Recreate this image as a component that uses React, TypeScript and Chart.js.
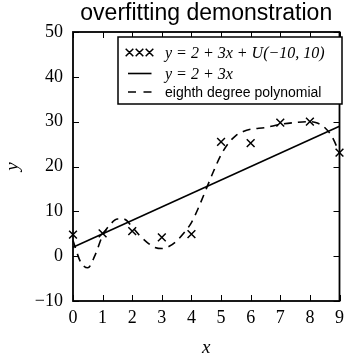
import React, { useEffect, useRef } from "react";
import { Chart, registerables } from "chart.js";

Chart.register(...registerables);

const sampleX = [0, 1, 2, 3, 4, 5, 6, 7, 8, 9];
const sampleY = [4.8, 5.1, 5.6, 4.2, 4.9, 25.5, 25.2, 29.8, 30.0, 23.1];

const lineX = [0, 9];
const lineY = [2, 29];

const polyX = [0, 0.25, 0.5, 0.75, 1, 1.25, 1.5, 1.75, 2, 2.25, 2.5, 2.75, 3, 3.25, 3.5, 3.75, 4, 4.25, 4.5, 4.75, 5, 5.25, 5.5, 5.75, 6, 6.5, 7, 7.5, 8, 8.25, 8.5, 8.75, 9];
const polyY = [3.5, -1.2, -2.6, 0.3, 4.6, 7.0, 8.3, 8.2, 6.5, 4.6, 3.1, 2.0, 1.7, 2.2, 3.4, 5.2, 7.5, 11.0, 15.0, 19.0, 22.6, 25.2, 26.9, 27.8, 28.3, 28.7, 29.4, 29.8, 30.0, 29.7, 28.7, 26.6, 23.0];

const xTicks = [0, 1, 2, 3, 4, 5, 6, 7, 8, 9];
const yTicks = [-10, 0, 10, 20, 30, 40, 50];

const titleText = "overfitting demonstration";
const legendLabels = ["y = 2 + 3x + U(\u221210, 10)", "y = 2 + 3x", "eighth degree polynomial"];

const fmt = (v: number) => (v < 0 ? "\u2212" + Math.abs(v) : String(v));

const decor = {
  id: "decor",
  afterDraw(chart: any) {
    const { ctx, chartArea: a, scales } = chart;
    const xs = scales.x;
    const ys = scales.y;
    ctx.save();
    ctx.strokeStyle = "#000";
    ctx.lineWidth = 1;
    ctx.beginPath();
    xTicks.forEach((t) => {
      const px = Math.round(xs.getPixelForValue(t)) + 0.5;
      ctx.moveTo(px, a.bottom);
      ctx.lineTo(px, a.bottom - 6);
      ctx.moveTo(px, a.top);
      ctx.lineTo(px, a.top + 6);
    });
    yTicks.forEach((t) => {
      const py = Math.round(ys.getPixelForValue(t)) + 0.5;
      ctx.moveTo(a.left, py);
      ctx.lineTo(a.left + 6, py);
      ctx.moveTo(a.right, py);
      ctx.lineTo(a.right - 6, py);
    });
    ctx.stroke();
    ctx.lineWidth = 1.8;
    ctx.strokeRect(a.left, a.top, a.right - a.left, a.bottom - a.top);

    ctx.fillStyle = "#000";
    ctx.font = '23px "Liberation Sans"';
    ctx.textAlign = "center";
    ctx.textBaseline = "alphabetic";
    ctx.fillText(titleText, (a.left + a.right) / 2, 20);

    const bx = 118, by = 37, bw = 224, bh = 67;
    ctx.fillStyle = "#fff";
    ctx.fillRect(bx, by, bw, bh);
    ctx.lineWidth = 1.5;
    ctx.strokeStyle = "#000";
    ctx.strokeRect(bx, by, bw, bh);
    const rows = [52.5, 73.5, 92];
    ctx.lineWidth = 1.5;
    ctx.beginPath();
    [129.5, 139.5, 149.5].forEach((cx) => {
      const r = 3.8;
      ctx.moveTo(cx - r, rows[0] - r);
      ctx.lineTo(cx + r, rows[0] + r);
      ctx.moveTo(cx - r, rows[0] + r);
      ctx.lineTo(cx + r, rows[0] - r);
    });
    ctx.stroke();
    ctx.lineWidth = 1.6;
    ctx.beginPath();
    ctx.moveTo(128, rows[1]);
    ctx.lineTo(151.5, rows[1]);
    ctx.stroke();
    ctx.beginPath();
    ctx.moveTo(128, rows[2]);
    ctx.lineTo(136, rows[2]);
    ctx.moveTo(143.5, rows[2]);
    ctx.lineTo(151.5, rows[2]);
    ctx.stroke();
    ctx.fillStyle = "#000";
    ctx.textAlign = "left";
    ctx.textBaseline = "middle";
    ctx.font = 'italic 16px "Liberation Serif"';
    ctx.fillText(legendLabels[0], 165, rows[0] + 1);
    ctx.fillText(legendLabels[1], 165, rows[1] + 1);
    ctx.font = '14px "Liberation Sans"';
    ctx.fillText(legendLabels[2], 165, rows[2] + 1);
    ctx.restore();
  },
};

export default function App() {
  const ref = useRef<HTMLCanvasElement | null>(null);
  useEffect(() => {
    if (!ref.current) return;
    const tickFont = { family: "Liberation Serif", size: 18 };
    const chart = new Chart(ref.current, {
      type: "scatter",
      data: {
        datasets: [
          {
            label: "poly",
            data: polyX.map((x, i) => ({ x, y: polyY[i] })),
            showLine: true,
            borderColor: "#000",
            borderWidth: 1.6,
            borderDash: [8, 6],
            pointRadius: 0,
            cubicInterpolationMode: "monotone",
            fill: false,
          } as any,
          {
            label: "line",
            data: lineX.map((x, i) => ({ x, y: lineY[i] })),
            showLine: true,
            borderColor: "#000",
            borderWidth: 1.6,
            pointRadius: 0,
            fill: false,
          },
          {
            label: "samples",
            data: sampleX.map((x, i) => ({ x, y: sampleY[i] })),
            showLine: false,
            pointStyle: "crossRot",
            pointRadius: 5.5,
            pointBorderColor: "#000",
            pointBorderWidth: 1.5,
            borderColor: "#000",
          },
        ],
      },
      options: {
        responsive: false,
        animation: false,
        clip: false as any,
        layout: { padding: { top: 32, right: 4, left: 0, bottom: 0 } },
        plugins: { legend: { display: false }, tooltip: { enabled: false }, title: { display: false } },
        scales: {
          x: {
            type: "linear",
            min: 0,
            max: 9,
            afterBuildTicks: (s: any) => {
              s.ticks = xTicks.map((v) => ({ value: v }));
            },
            afterFit: (s: any) => {
              s.height = 54;
            },
            grid: { display: false, drawTicks: false },
            border: { display: false },
            ticks: { color: "#000", font: tickFont, padding: 6, maxRotation: 0, autoSkip: false, callback: (v: any) => fmt(Number(v)) },
            title: { display: true, text: "x", color: "#000", font: { family: "Liberation Serif", size: 19, style: "italic" }, padding: { top: 0, bottom: -4 } },
          },
          y: {
            type: "linear",
            min: -10,
            max: 50,
            afterBuildTicks: (s: any) => {
              s.ticks = yTicks.map((v) => ({ value: v }));
            },
            afterFit: (s: any) => {
              s.width = 73;
            },
            grid: { display: false, drawTicks: false },
            border: { display: false },
            ticks: { color: "#000", font: tickFont, padding: 10, autoSkip: false, callback: (v: any) => fmt(Number(v)) },
            title: { display: true, text: "y", color: "#000", font: { family: "Liberation Serif", size: 19, style: "italic" }, padding: { top: 2, bottom: 0 } },
          },
        },
      },
      plugins: [decor],
    });
    return () => chart.destroy();
  }, []);
  return (
    <div style={{ position: "fixed", left: 0, top: 0, width: 350, height: 355, background: "#fff" }}>
      <canvas ref={ref} width={350} height={355} style={{ display: "block" }} />
    </div>
  );
}
